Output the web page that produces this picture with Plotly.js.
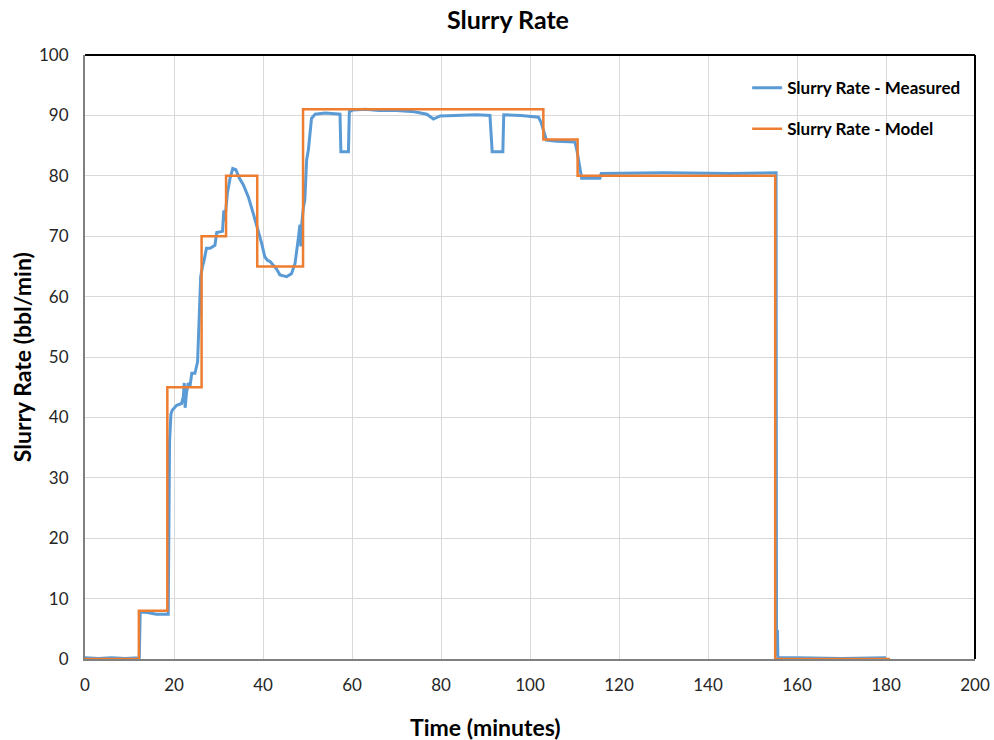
<!DOCTYPE html>
<html>
<head>
<meta charset="utf-8">
<script src="https://cdn.plot.ly/plotly-3.0.1.min.js"></script>
<style>
  html, body { margin: 0; padding: 0; background: #ffffff; }
  #chart { width: 994px; height: 740px; }
</style>
</head>
<body>
<div id="chart"></div>
<script>
// Model: step levels (drawn with hv shape)
const modelTime = [0, 12.1, 18.5, 26.2, 31.7, 38.7, 49.0, 103.0, 110.7, 155.1, 180.9];
const modelRate = [0, 8, 45, 70, 80, 65, 91, 86, 80, 0, 0];

// Measured
const measTime = [
  0, 3, 6, 9, 12.2, 12.4, 14, 16, 18.7, 19.0, 19.3, 19.6, 20.6, 21.7, 22.1, 22.3, 22.5,
  22.8, 23.2, 23.6, 24.0, 24.7, 25.3, 25.5, 25.6, 25.8, 26.0, 26.4, 26.7, 27.3, 28.1,
  29.2, 29.6, 30.9, 31.2, 31.4, 32.0, 32.6, 33.2, 33.9, 34.7, 35.6, 36.0, 36.7, 37.8,
  38.9, 39.7, 40.4, 41.0, 41.6, 42.3, 43.0, 43.8, 45.3, 46.4, 47.2, 47.9, 48.3, 48.5,
  48.7, 49.1, 49.4, 49.8, 50.2, 50.9, 51.7, 54, 57.3, 57.5, 59.2, 59.4, 60.2, 63, 66,
  70, 74, 76.8, 78.3, 79.8, 84, 88, 91.0, 91.5, 93.9, 94.1, 98, 101.9, 102.5, 103.0,
  103.7, 106, 110.1, 110.6, 111.2, 111.6, 115.7, 116, 130, 145, 155.3, 155.4, 155.6,
  155.7, 160, 170, 180
];
const measRate = [
  0.2, 0.1, 0.2, 0.1, 0.2, 7.8, 7.7, 7.4, 7.4, 36, 40.5, 41.2, 42.0, 42.3, 43.5, 45.7, 41.6,
  44, 45.7, 45.2, 47.3, 47.3, 49.2, 53, 57.8, 58.5, 63.3, 65, 65.8, 68.0, 68.0,
  68.5, 70.6, 70.8, 74.3, 72.5, 77.1, 79.6, 81.2, 81.0, 79.6, 78.5, 77.8, 76.5, 73.8,
  71.0, 68.8, 66.6, 66.0, 65.8, 65.2, 64.6, 63.6, 63.3, 63.8, 65.5, 69.4, 71.9, 68.3,
  72, 74.9, 76.0, 82.6, 84.3, 89.5, 90.2, 90.4, 90.2, 84.0, 84.0, 90.6, 90.9, 91.0, 90.8,
  90.8, 90.6, 90.2, 89.4, 89.9, 90.0, 90.1, 90.0, 84.0, 84.0, 90.1, 90.0, 89.7, 88.8, 87.6,
  85.9, 85.7, 85.6, 84.0, 81.0, 79.6, 79.6, 80.4, 80.5, 80.4, 80.5, 0.5, 4.8,
  0.2, 0.2, 0.1, 0.2
];

const xTicks = [0, 20, 40, 60, 80, 100, 120, 140, 160, 180, 200];
const yTicks = [0, 10, 20, 30, 40, 50, 60, 70, 80, 90, 100];

const FONT = "Lato, 'Open Sans', sans-serif";

const traces = [
  {
    type: "scatter",
    mode: "lines",
    name: "Slurry Rate - Measured",
    x: measTime,
    y: measRate,
    line: { color: "#5B9BD5", width: 3 },
    legendgroup: "a"
  },
  {
    type: "scatter",
    mode: "lines",
    name: "Slurry Rate - Model",
    x: modelTime,
    y: modelRate,
    line: { color: "#ED7D31", width: 2.5, shape: "hv" },
    legendgroup: "b"
  }
];

const layout = {
  width: 994,
  height: 740,
  margin: { l: 85, r: 19, t: 55, b: 81 },
  paper_bgcolor: "#ffffff",
  plot_bgcolor: "#ffffff",
  font: { family: FONT, size: 17, color: "#262626" },
  xaxis: {
    range: [0, 200],
    tickvals: xTicks,
    ticktext: xTicks.map(String),
    showgrid: true,
    gridcolor: "#d9d9d9",
    gridwidth: 1,
    zeroline: false,
    showline: true,
    linecolor: "#808080",
    linewidth: 2,
    ticks: "",
    ticklabelstandoff: 10,
    fixedrange: true
  },
  yaxis: {
    range: [0, 100],
    tickvals: yTicks,
    ticktext: yTicks.map(String),
    showgrid: true,
    gridcolor: "#d9d9d9",
    gridwidth: 1,
    zeroline: false,
    showline: true,
    linecolor: "#808080",
    linewidth: 2,
    ticks: "",
    ticklabelstandoff: 11,
    fixedrange: true
  },
  showlegend: true,
  legend: {
    x: 0.744,
    y: 0.975,
    xanchor: "left",
    yanchor: "top",
    bgcolor: "rgba(0,0,0,0)",
    traceorder: "grouped",
    tracegroupgap: 16,
    font: { family: FONT, size: 17, color: "#000000", weight: "bold" }
  },
  title: {
    text: "<b>Slurry Rate</b>",
    x: 0.511,
    xanchor: "center",
    y: 0.972,
    yanchor: "middle",
    font: { family: FONT, size: 25, color: "#000000" }
  },
  annotations: [
    {
      text: "<b>Time (minutes)</b>",
      xref: "paper",
      yref: "paper",
      x: (485 - 85) / 890,
      y: -0.112,
      xanchor: "center",
      yanchor: "middle",
      showarrow: false,
      font: { family: FONT, size: 23, color: "#000000" }
    },
    {
      text: "<b>Slurry Rate (bbl/min)</b>",
      xref: "paper",
      yref: "paper",
      x: -0.0705,
      y: 0.5,
      xanchor: "center",
      yanchor: "middle",
      textangle: -90,
      showarrow: false,
      font: { family: FONT, size: 23, color: "#000000" }
    }
  ],
  shapes: [
    {
      type: "line", xref: "paper", yref: "paper",
      x0: 0, x1: 1, y0: 1, y1: 1,
      line: { color: "#000000", width: 2 }
    },
    {
      type: "line", xref: "paper", yref: "paper",
      x0: 1, x1: 1, y0: 0, y1: 1,
      line: { color: "#000000", width: 2 }
    }
  ]
};

Plotly.newPlot("chart", traces, layout, {
  displayModeBar: false,
  staticPlot: true
});
</script>
</body>
</html>
